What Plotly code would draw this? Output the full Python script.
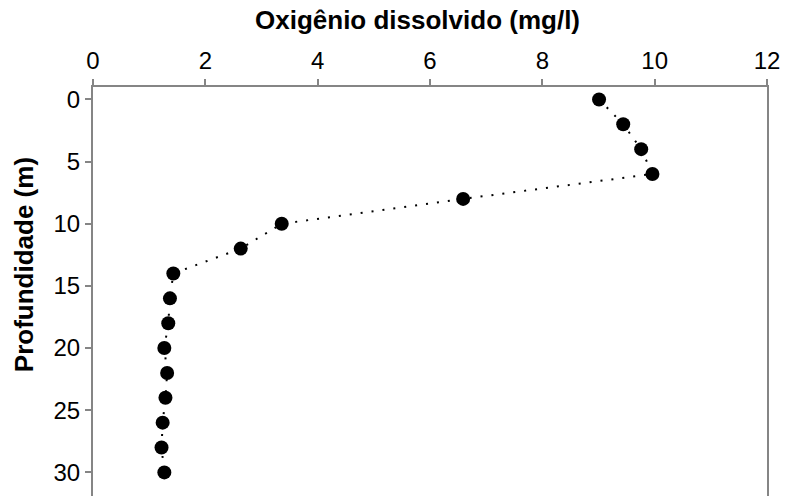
import plotly.graph_objects as go

# Data
depth_m = [0, 2, 4, 6, 8, 10, 12, 14, 16, 18, 20, 22, 24, 26, 28, 30]
oxygen_mg_l = [9.01, 9.44, 9.76, 9.96, 6.59, 3.36, 2.63, 1.43, 1.37, 1.34,
               1.27, 1.32, 1.29, 1.24, 1.22, 1.27]

x_ticks = [0, 2, 4, 6, 8, 10, 12]
y_ticks = [0, 5, 10, 15, 20, 25, 30]

FONT = "Liberation Sans, Arial, sans-serif"
AXIS_GREY = "#858585"

fig = go.Figure()
fig.add_trace(go.Scatter(
    x=oxygen_mg_l, y=depth_m, mode="lines+markers",
    line=dict(color="black", width=2, dash="2px,9px"),
    marker=dict(color="black", size=14),
    showlegend=False,
))

fig.update_layout(
    width=787, height=496,
    margin=dict(l=93, r=20, t=87, b=0, pad=0),
    paper_bgcolor="white", plot_bgcolor="white",
    font=dict(family=FONT, size=24, color="black"),
    xaxis=dict(
        side="top", range=[0, 12], tickvals=x_ticks,
        showgrid=False, zeroline=False,
        showline=True, linecolor=AXIS_GREY, linewidth=2,
        ticks="outside", ticklen=6, tickwidth=1.5, tickcolor=AXIS_GREY,
        tickfont=dict(family=FONT, size=24, color="black"),
    ),
    yaxis=dict(
        range=[31.9, -1], tickvals=y_ticks,
        showgrid=False, zeroline=False,
        showline=True, mirror=True, linecolor=AXIS_GREY, linewidth=2,
        ticks="outside", ticklen=6, tickwidth=1.5, tickcolor=AXIS_GREY,
        tickfont=dict(family=FONT, size=24, color="black"),
    ),
    annotations=[
        dict(text="<b>Oxigênio dissolvido (mg/l)</b>", xref="paper", yref="paper",
             x=0.482, y=1.164, xanchor="center", yanchor="middle", showarrow=False,
             font=dict(family=FONT, size=26, color="black")),
        dict(text="<b>Profundidade (m)</b>", xref="paper", yref="paper",
             x=-0.102, y=0.565, xanchor="center", yanchor="middle", showarrow=False,
             textangle=-90, font=dict(family=FONT, size=26, color="black")),
    ],
)

fig.write_html("out.html")
